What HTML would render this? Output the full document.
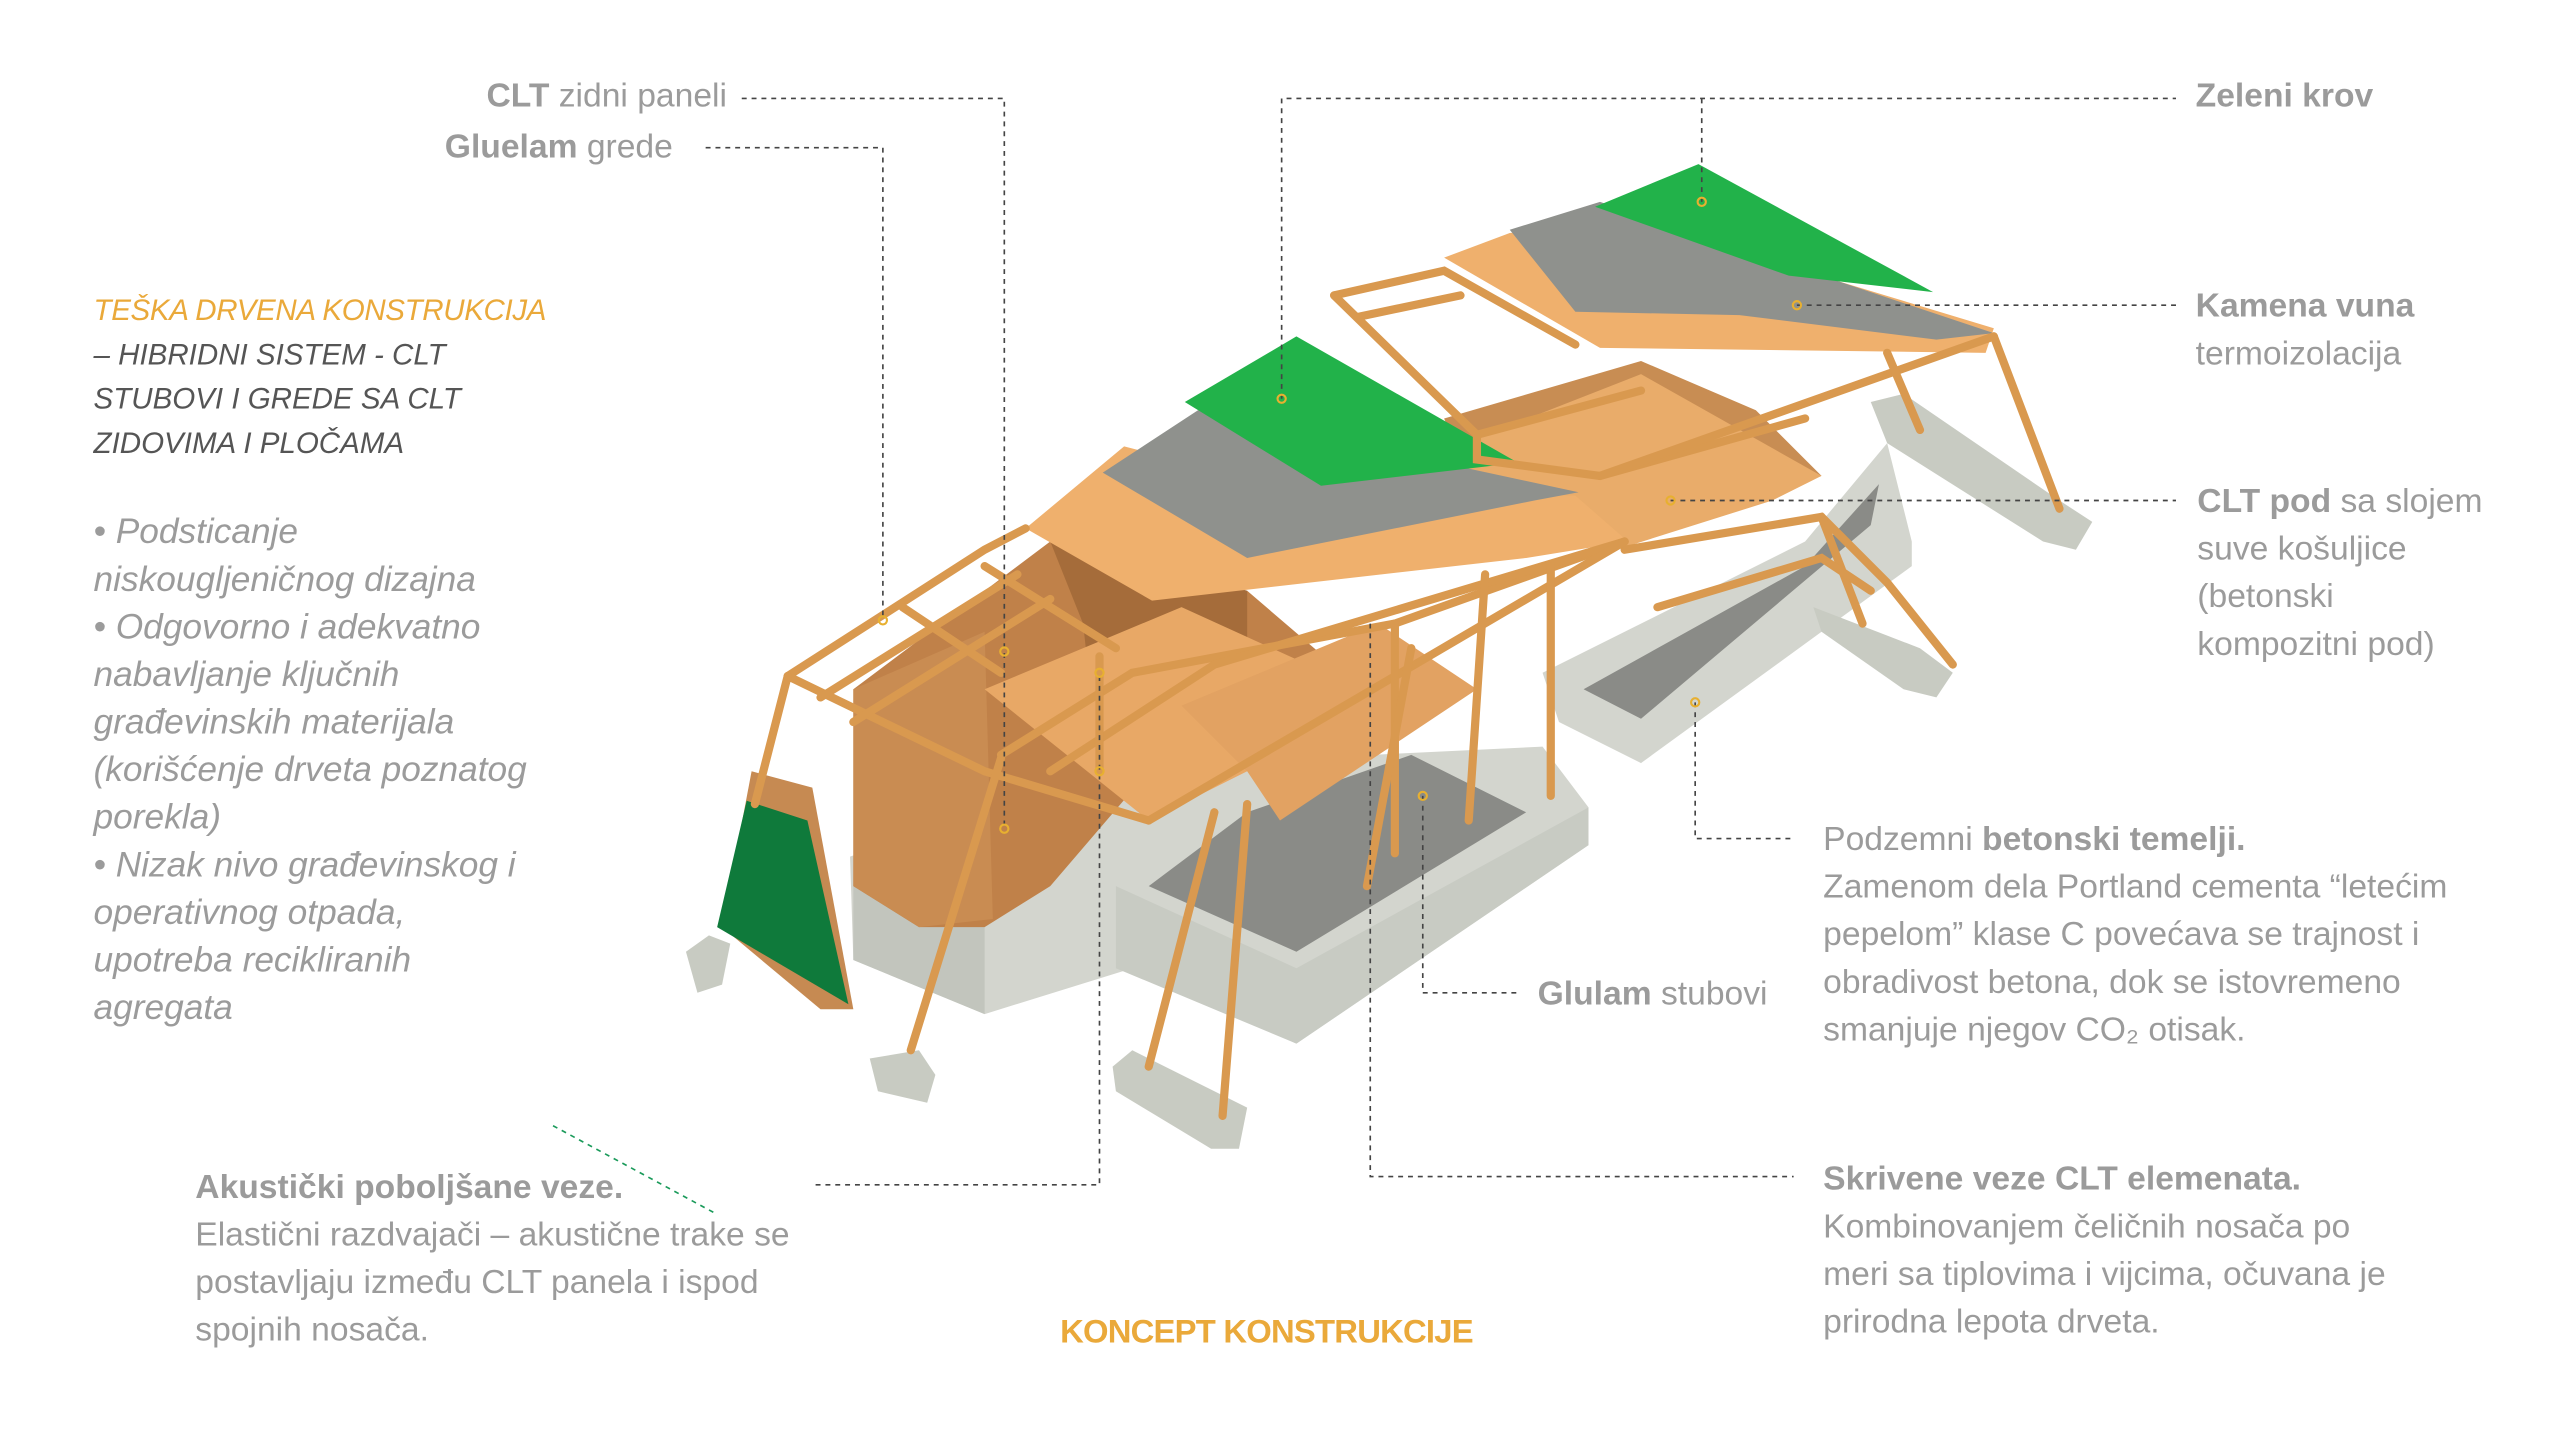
<!DOCTYPE html>
<html><head><meta charset="utf-8"><style>
html,body{margin:0;padding:0;background:#fff}
svg{display:block}
text{font-family:"Liberation Sans",sans-serif}
.g{fill:#9b9b9b;font-size:20.5px}
.b{font-weight:bold}
.i{font-style:italic}
.d{stroke:#444;stroke-width:1;stroke-dasharray:3 3;fill:none}
.w{stroke:#d9994f;stroke-width:5;fill:none;stroke-linecap:round}
.dot{fill:none;stroke:#e8b030;stroke-width:1.3}
</style></head><body>
<svg width="2560" height="1449" viewBox="0 0 1560 883" xmlns="http://www.w3.org/2000/svg">
<!-- base concrete -->
<polygon points="518,522 668,468 940,455 968,492 968,515 790,636 690,590 600,618 520,585" fill="#d3d5ce"/>
<polygon points="520,530 600,560 600,618 520,585" fill="#c2c5bd"/>
<polygon points="680,540 790,590 968,492 968,515 790,636 680,590" fill="#c8cbc3"/>
<polygon points="700,540 790,580 930,495 860,460 760,495" fill="#8a8b87"/>
<polygon points="940,410 1100,330 1150,270 1165,330 1165,345 1000,465 950,440" fill="#d3d5ce"/>
<polygon points="965,420 1100,345 1145,295 1140,320 1000,438" fill="#8a8b87"/>
<!-- footings -->
<polygon points="418,580 432,570 445,575 440,600 425,605" fill="#c8cbc2"/>
<polygon points="530,645 560,640 570,655 565,672 535,665" fill="#c8cbc2"/>
<polygon points="678,650 690,640 760,675 755,700 738,700 680,665" fill="#c8cbc2"/>
<polygon points="1140,245 1160,240 1255,305 1275,318 1265,335 1245,330 1150,270" fill="#c8cbc2"/>
<polygon points="1105,370 1170,395 1190,410 1180,425 1160,420 1110,385" fill="#c8cbc2"/>
<!-- wood walls -->
<polygon points="520,420 640,330 760,360 830,420 700,470 640,540 600,565 560,565 520,540" fill="#c08149"/>
<polygon points="520,420 600,385 605,560 560,565 520,540" fill="#c98c52"/>
<polygon points="640,330 760,360 760,430 670,470 660,380" fill="#a56c3a"/>
<polygon points="880,255 1000,220 1070,250 1110,290 1000,330 900,300" fill="#c88d53"/>
<!-- middle floor slabs -->
<polygon points="600,420 720,370 830,420 760,470 700,500 650,460" fill="#e8a866"/>
<polygon points="880,275 1000,228 1110,290 1080,305 985,335 900,300" fill="#e9ac6a"/>
<polygon points="720,430 840,380 900,420 780,500 760,470" fill="#e2a262"/>
<!-- left green side panel -->
<polygon points="440,565 458,470 495,480 520,615 500,615" fill="#c68a52"/>
<polygon points="437,565 455,488 492,500 517,612" fill="#0f7a3b"/>
<!-- left roof -->
<polygon points="625,322 685,272 792,300 960,302 992,330 930,340 702,366" fill="#efb06d"/>
<polygon points="672,288 730,250 962,300 935,305 760,340" fill="#8f918d"/>
<polygon points="722,245 790,205 925,282 805,296" fill="#22b24a"/>
<!-- right roof -->
<polygon points="880,157 920,142 1000,135 1215,200 1210,215 975,212" fill="#efb06d"/>
<polygon points="920,140 975,123 1215,203 1180,207 1060,192 960,190" fill="#8f918d"/>
<polygon points="972,126 1035,100 1178,178 1090,168" fill="#22b24a"/>
<!-- glulam frames -->
<g class="w">
<polyline points="813,180 880,165 960,210"/><polyline points="828,193 890,180"/><polyline points="813,180 900,265 1000,238"/>
<polyline points="900,265 900,280 975,290 1100,255"/><line x1="975" y1="290" x2="1215" y2="205"/>
<line x1="1215" y1="205" x2="1255" y2="310"/><line x1="1150" y1="215" x2="1170" y2="262"/>
<polyline points="990,335 1110,315 1150,355 1190,405"/><line x1="1110" y1="315" x2="1135" y2="380"/><polyline points="1010,370 1110,340 1140,360"/>
<polyline points="480,412 600,335 625,322"/><polyline points="480,412 600,470 700,500"/>
<polyline points="500,425 620,350"/><polyline points="520,440 640,365"/>
<line x1="550" y1="370" x2="610" y2="410"/><line x1="600" y1="345" x2="680" y2="395"/>
<polyline points="610,460 690,410 850,380 990,330"/><polyline points="640,470 740,405 990,330"/>
<line x1="700" y1="500" x2="990" y2="330"/>
<line x1="480" y1="412" x2="460" y2="490"/><line x1="610" y1="462" x2="555" y2="640"/>
<line x1="740" y1="495" x2="700" y2="650"/><line x1="760" y1="490" x2="745" y2="680"/>
<line x1="850" y1="380" x2="850" y2="520"/><line x1="860" y1="395" x2="833" y2="540"/>
<line x1="945" y1="345" x2="945" y2="485"/><line x1="905" y1="350" x2="895" y2="500"/>
<line x1="670" y1="400" x2="670" y2="470"/>
</g>
<!-- leader lines -->
<polyline class="d" points="452,60 612,60 612,505"/>
<polyline class="d" points="430,90 538,90 538,378"/>
<polyline class="d" points="781,243 781,60 1326,60"/>
<line class="d" x1="1037" y1="60" x2="1037" y2="123"/>
<line class="d" x1="1095" y1="186" x2="1326" y2="186"/>
<line class="d" x1="1018" y1="305" x2="1326" y2="305"/>
<polyline class="d" points="1033,428 1033,511 1093,511"/>
<polyline class="d" points="867,485 867,605 927,605"/>
<polyline class="d" points="835,380 835,717 1093,717"/>
<polyline class="d" points="670,412 670,722 497,722"/>
<line x1="337" y1="686" x2="437" y2="740" stroke="#1a9a5a" stroke-width="1" stroke-dasharray="3 3"/>
<g class="dot">
<circle cx="612" cy="397" r="2.5"/><circle cx="612" cy="505" r="2.5"/><circle cx="538" cy="378" r="2.5"/>
<circle cx="670" cy="410" r="2.5"/><circle cx="670" cy="470" r="2.5"/><circle cx="781" cy="243" r="2.5"/>
<circle cx="1037" cy="123" r="2.5"/><circle cx="1095" cy="186" r="2.5"/><circle cx="1018" cy="305" r="2.5"/>
<circle cx="1033" cy="428" r="2.5"/><circle cx="867" cy="485" r="2.5"/>
</g>
<!-- texts -->
<text class="g" x="443" y="65" text-anchor="end"><tspan class="b">CLT</tspan> zidni paneli</text>
<text class="g" x="410" y="96" text-anchor="end"><tspan class="b">Gluelam</tspan> grede</text>
<text class="i" x="57" y="195" font-size="18" fill="#eaa93a" textLength="276">TEŠKA DRVENA KONSTRUKCIJA</text>
<g class="i" font-size="18" fill="#555">
<text x="57" y="222">– HIBRIDNI SISTEM - CLT</text>
<text x="57" y="249">STUBOVI I GREDE SA CLT</text>
<text x="57" y="276">ZIDOVIMA I PLOČAMA</text>
</g>
<g class="g i" style="font-size:21.5px">
<text x="57" y="331">• Podsticanje</text>
<text x="57" y="360">niskougljeničnog dizajna</text>
<text x="57" y="389">• Odgovorno i adekvatno</text>
<text x="57" y="418">nabavljanje ključnih</text>
<text x="57" y="447">građevinskih materijala</text>
<text x="57" y="476">(korišćenje drveta poznatog</text>
<text x="57" y="505">porekla)</text>
<text x="57" y="534">• Nizak nivo građevinskog i</text>
<text x="57" y="563">operativnog otpada,</text>
<text x="57" y="592">upotreba recikliranih</text>
<text x="57" y="621">agregata</text>
</g>
<g class="g">
<text class="b" x="119" y="730">Akustički poboljšane veze.</text>
<text x="119" y="759">Elastični razdvajači – akustične trake se</text>
<text x="119" y="788">postavljaju između CLT panela i ispod</text>
<text x="119" y="817">spojnih nosača.</text>
<text class="b" x="1338" y="65">Zeleni krov</text>
<text class="b" x="1338" y="193">Kamena vuna</text>
<text x="1338" y="222">termoizolacija</text>
<text x="1339" y="312"><tspan class="b">CLT pod</tspan> sa slojem</text>
<text x="1339" y="341">suve košuljice</text>
<text x="1339" y="370">(betonski</text>
<text x="1339" y="399">kompozitni pod)</text>
<text x="1111" y="518">Podzemni <tspan class="b">betonski temelji.</tspan></text>
<text x="1111" y="547">Zamenom dela Portland cementa “letećim</text>
<text x="1111" y="576">pepelom” klase C povećava se trajnost i</text>
<text x="1111" y="605">obradivost betona, dok se istovremeno</text>
<text x="1111" y="634">smanjuje njegov CO₂ otisak.</text>
<text x="937" y="612"><tspan class="b">Glulam</tspan> stubovi</text>
<text class="b" x="1111" y="725">Skrivene veze CLT elemenata.</text>
<text x="1111" y="754">Kombinovanjem čeličnih nosača po</text>
<text x="1111" y="783">meri sa tiplovima i vijcima, očuvana je</text>
<text x="1111" y="812">prirodna lepota drveta.</text>
</g>
<text x="646" y="818" font-size="20" font-weight="bold" fill="#eaa93a" textLength="252">KONCEPT KONSTRUKCIJE</text>
</svg>
</body></html>
